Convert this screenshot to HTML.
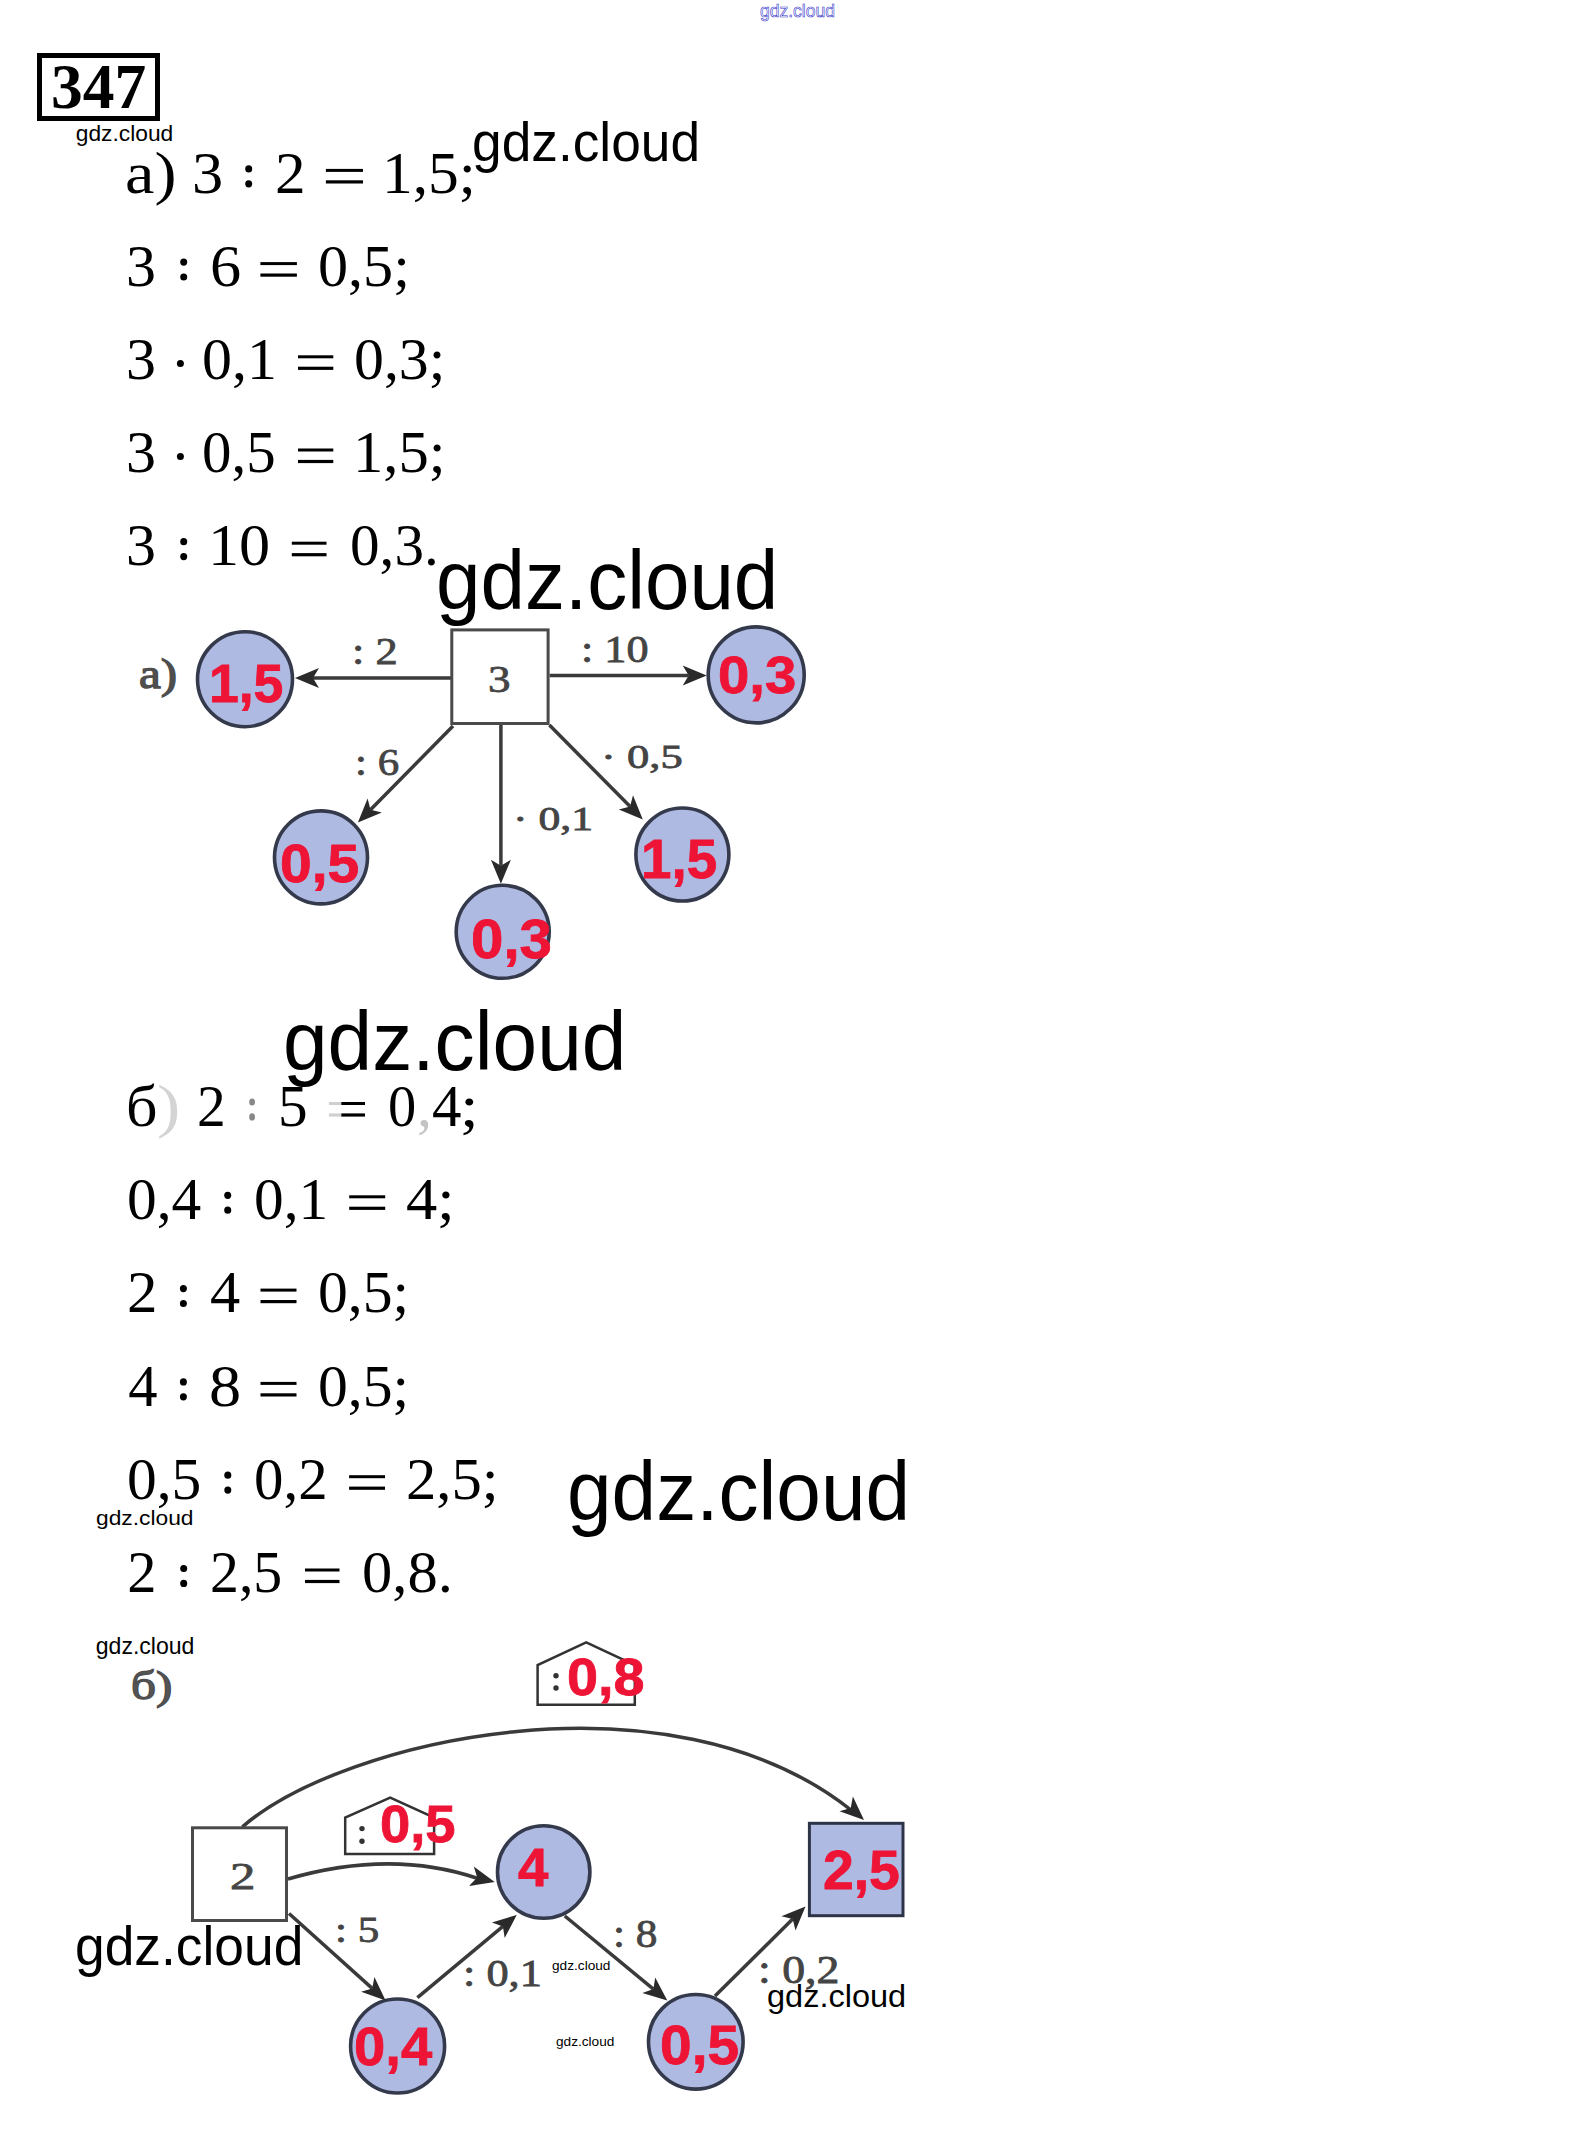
<!DOCTYPE html>
<html><head><meta charset="utf-8"><title>347</title>
<style>
html,body{margin:0;padding:0;background:#fff;}
body{width:1594px;height:2148px;position:relative;overflow:hidden;}
.t{position:absolute;white-space:pre;line-height:1;transform-origin:0 0;}
#box347{position:absolute;left:37px;top:53px;width:113px;height:58px;border:5px solid #000;}
svg{position:absolute;left:0;top:0;}
</style></head><body>
<svg width="1594" height="2148" viewBox="0 0 1594 2148">
<line x1="451" y1="678" x2="313.0" y2="678.0" stroke="#3a3a3a" stroke-width="3.5"/>
<line x1="549.6" y1="675.6" x2="688.7" y2="675.6" stroke="#3a3a3a" stroke-width="3.5"/>
<line x1="453" y1="726" x2="370.5" y2="809.8" stroke="#3a3a3a" stroke-width="3.5"/>
<line x1="500.9" y1="725" x2="500.9" y2="865.7" stroke="#3a3a3a" stroke-width="3.5"/>
<line x1="549.4" y1="725" x2="630.1" y2="806.6" stroke="#3a3a3a" stroke-width="3.5"/>
<rect x="451.8" y="629.9" width="96.30000000000001" height="93.60000000000002" fill="#fff" stroke="#4a4a4a" stroke-width="3"/>
<circle cx="245" cy="679.2" r="47.5" fill="#afbae2" stroke="#343a4c" stroke-width="3.6"/>
<circle cx="756.2" cy="674.9" r="48.0" fill="#afbae2" stroke="#343a4c" stroke-width="3.6"/>
<circle cx="321" cy="857.4" r="46.5" fill="#afbae2" stroke="#343a4c" stroke-width="3.6"/>
<circle cx="682.4" cy="854.5" r="46.5" fill="#afbae2" stroke="#343a4c" stroke-width="3.6"/>
<circle cx="502.7" cy="931.8" r="46.5" fill="#afbae2" stroke="#343a4c" stroke-width="3.6"/>
<path d="M242.4,1826.8 C344.5,1738.7 669.6,1666.2 851,1810" fill="none" stroke="#3a3a3a" stroke-width="3.5"/>
<path d="M288,1879 Q391,1849 478,1878.5" fill="none" stroke="#3a3a3a" stroke-width="3.5"/>
<line x1="289" y1="1913.5" x2="372.2" y2="1988.4" stroke="#3a3a3a" stroke-width="3.5"/>
<line x1="417.4" y1="1997.7" x2="502.9" y2="1926.4" stroke="#3a3a3a" stroke-width="3.5"/>
<line x1="564.8" y1="1916" x2="653.4" y2="1989.1" stroke="#3a3a3a" stroke-width="3.5"/>
<line x1="715" y1="1995.9" x2="792.7" y2="1919.1" stroke="#3a3a3a" stroke-width="3.5"/>
<rect x="192.5" y="1827.8" width="94" height="92.70000000000005" fill="#fff" stroke="#4a4a4a" stroke-width="3"/>
<rect x="809.4" y="1823.3" width="93.60000000000002" height="92.40000000000009" fill="#afbae2" stroke="#2e3448" stroke-width="3"/>
<circle cx="543.7" cy="1872" r="46.2" fill="#afbae2" stroke="#343a4c" stroke-width="3.6"/>
<circle cx="397.6" cy="2046" r="47.0" fill="#afbae2" stroke="#343a4c" stroke-width="3.6"/>
<circle cx="695.8" cy="2041.8" r="47.3" fill="#afbae2" stroke="#343a4c" stroke-width="3.6"/>
<polygon points="537.6,1704.7 537.6,1665 586.2,1642.3 634.8,1665 634.8,1704.7" fill="#fff" stroke="#333" stroke-width="2.5"/>
<polygon points="345.2,1854 345.2,1817.6 390.2,1797.5 434.1,1817.6 434.1,1854" fill="#fff" stroke="#333" stroke-width="2.5"/>
<circle cx="556" cy="1675.7" r="2.7" fill="#333"/><circle cx="556" cy="1688" r="2.7" fill="#333"/>
<circle cx="362" cy="1828.6" r="2.7" fill="#333"/><circle cx="362" cy="1841.3" r="2.7" fill="#333"/>
<polygon points="295.0,678.0 319.0,668.0 313.0,678.0 319.0,688.0" fill="#2a2a2a"/>
<polygon points="706.7,675.6 682.7,685.6 688.7,675.6 682.7,665.6" fill="#2a2a2a"/>
<polygon points="357.9,822.6 367.6,798.5 370.5,809.8 381.9,812.5" fill="#2a2a2a"/>
<polygon points="500.9,883.7 490.9,859.7 500.9,865.7 510.9,859.7" fill="#2a2a2a"/>
<polygon points="642.8,819.4 618.8,809.4 630.1,806.6 633.0,795.3" fill="#2a2a2a"/>
<polygon points="864.0,1820.0 839.5,1811.3 850.7,1807.9 852.9,1796.5" fill="#2a2a2a"/>
<polygon points="494.7,1882.0 469.0,1885.9 477.2,1877.6 473.8,1866.5" fill="#2a2a2a"/>
<polygon points="385.6,2000.4 361.1,1991.8 372.2,1988.4 374.4,1976.9" fill="#2a2a2a"/>
<polygon points="516.7,1914.9 504.7,1938.0 502.9,1926.4 491.9,1922.6" fill="#2a2a2a"/>
<polygon points="667.3,2000.6 642.4,1993.0 653.4,1989.1 655.2,1977.6" fill="#2a2a2a"/>
<polygon points="805.5,1906.5 795.5,1930.5 792.7,1919.1 781.4,1916.3" fill="#2a2a2a"/>
<ellipse cx="248.7" cy="168.9" rx="3.50" ry="3.6" fill="#000"/>
<ellipse cx="248.7" cy="183.8" rx="3.50" ry="3.6" fill="#000"/>
<rect x="325.9" y="168.9" width="37.1" height="3" fill="#000"/>
<rect x="325.9" y="180.3" width="37.1" height="3.2" fill="#000"/>
<ellipse cx="183.7" cy="262.1" rx="3.50" ry="3.6" fill="#000"/>
<ellipse cx="183.7" cy="277.0" rx="3.50" ry="3.6" fill="#000"/>
<rect x="260.4" y="262.1" width="36.5" height="3" fill="#000"/>
<rect x="260.4" y="273.5" width="36.5" height="3.2" fill="#000"/>
<circle cx="180.4" cy="363.4" r="3.5" fill="#000"/>
<rect x="298.0" y="355.3" width="35.3" height="3" fill="#000"/>
<rect x="298.0" y="366.7" width="35.3" height="3.2" fill="#000"/>
<circle cx="180.4" cy="456.6" r="3.5" fill="#000"/>
<rect x="298.0" y="448.5" width="35.3" height="3" fill="#000"/>
<rect x="298.0" y="459.9" width="35.3" height="3.2" fill="#000"/>
<ellipse cx="183.7" cy="541.7" rx="3.50" ry="3.6" fill="#000"/>
<ellipse cx="183.7" cy="556.6" rx="3.50" ry="3.6" fill="#000"/>
<rect x="291.8" y="541.7" width="34.7" height="3" fill="#000"/>
<rect x="291.8" y="553.1" width="34.7" height="3.2" fill="#000"/>
<ellipse cx="252.1" cy="1102.0" rx="2.90" ry="3.6" fill="#888"/>
<ellipse cx="252.1" cy="1116.9" rx="2.90" ry="3.6" fill="#888"/>
<rect x="328.9" y="1102.0" width="12.4" height="3" fill="#cfcfcf"/>
<rect x="328.9" y="1113.4" width="12.4" height="3.2" fill="#cfcfcf"/>
<rect x="341.3" y="1102.0" width="23.7" height="3" fill="#000"/>
<rect x="341.3" y="1113.4" width="23.7" height="3.2" fill="#000"/>
<ellipse cx="227.7" cy="1195.3" rx="3.50" ry="3.6" fill="#000"/>
<ellipse cx="227.7" cy="1210.2" rx="3.50" ry="3.6" fill="#000"/>
<rect x="349.2" y="1195.3" width="36.0" height="3" fill="#000"/>
<rect x="349.2" y="1206.7" width="36.0" height="3.2" fill="#000"/>
<ellipse cx="183.4" cy="1288.6" rx="3.50" ry="3.6" fill="#000"/>
<ellipse cx="183.4" cy="1303.5" rx="3.50" ry="3.6" fill="#000"/>
<rect x="260.5" y="1288.6" width="36.0" height="3" fill="#000"/>
<rect x="260.5" y="1300.0" width="36.0" height="3.2" fill="#000"/>
<ellipse cx="183.4" cy="1381.9" rx="3.50" ry="3.6" fill="#000"/>
<ellipse cx="183.4" cy="1396.8" rx="3.50" ry="3.6" fill="#000"/>
<rect x="260.5" y="1381.9" width="36.0" height="3" fill="#000"/>
<rect x="260.5" y="1393.3" width="36.0" height="3.2" fill="#000"/>
<ellipse cx="227.8" cy="1475.2" rx="3.50" ry="3.6" fill="#000"/>
<ellipse cx="227.8" cy="1490.1" rx="3.50" ry="3.6" fill="#000"/>
<rect x="349.1" y="1475.2" width="35.9" height="3" fill="#000"/>
<rect x="349.1" y="1486.6" width="35.9" height="3.2" fill="#000"/>
<ellipse cx="183.7" cy="1568.5" rx="3.50" ry="3.6" fill="#000"/>
<ellipse cx="183.7" cy="1583.4" rx="3.50" ry="3.6" fill="#000"/>
<rect x="305.0" y="1568.5" width="34.5" height="3" fill="#000"/>
<rect x="305.0" y="1579.9" width="34.5" height="3.2" fill="#000"/>
<text x="760" y="17" font-family="Liberation Sans" font-size="18.5" fill="none" stroke="#3030c8" stroke-width="0.6" textLength="75" lengthAdjust="spacingAndGlyphs">gdz.cloud</text>
</svg>
<div id="box347"></div>
<div class="t" style="left:125.45px;top:144.64px;font-family:'Liberation Serif',serif;font-weight:400;font-size:58.50px;color:#000;transform:scaleX(1.1322);">а)</div>
<div class="t" style="left:191.58px;top:144.64px;font-family:'Liberation Serif',serif;font-weight:400;font-size:58.50px;color:#000;transform:scaleX(1.0673);">3</div>
<div class="t" style="left:274.55px;top:144.64px;font-family:'Liberation Serif',serif;font-weight:400;font-size:58.50px;color:#000;transform:scaleX(1.0470);">2</div>
<div class="t" style="left:381.87px;top:144.64px;font-family:'Liberation Serif',serif;font-weight:400;font-size:58.50px;color:#000;transform:scaleX(1.0508);">1,5;</div>
<div class="t" style="left:126.00px;top:237.84px;font-family:'Liberation Serif',serif;font-weight:400;font-size:58.50px;color:#000;transform:scaleX(1.0256);">3</div>
<div class="t" style="left:209.51px;top:237.84px;font-family:'Liberation Serif',serif;font-weight:400;font-size:58.50px;color:#000;transform:scaleX(1.0654);">6</div>
<div class="t" style="left:317.59px;top:237.84px;font-family:'Liberation Serif',serif;font-weight:400;font-size:58.50px;color:#000;transform:scaleX(1.0281);">0,5;</div>
<div class="t" style="left:126.00px;top:331.05px;font-family:'Liberation Serif',serif;font-weight:400;font-size:58.50px;color:#000;transform:scaleX(1.0256);">3</div>
<div class="t" style="left:202.30px;top:331.05px;font-family:'Liberation Serif',serif;font-weight:400;font-size:58.50px;color:#000;transform:scaleX(1.0242);">0,1</div>
<div class="t" style="left:354.11px;top:331.05px;font-family:'Liberation Serif',serif;font-weight:400;font-size:58.50px;color:#000;transform:scaleX(1.0220);">0,3;</div>
<div class="t" style="left:126.00px;top:424.25px;font-family:'Liberation Serif',serif;font-weight:400;font-size:58.50px;color:#000;transform:scaleX(1.0256);">3</div>
<div class="t" style="left:202.34px;top:424.25px;font-family:'Liberation Serif',serif;font-weight:400;font-size:58.50px;color:#000;transform:scaleX(1.0066);">0,5</div>
<div class="t" style="left:352.95px;top:424.25px;font-family:'Liberation Serif',serif;font-weight:400;font-size:58.50px;color:#000;transform:scaleX(1.0357);">1,5;</div>
<div class="t" style="left:126.00px;top:517.45px;font-family:'Liberation Serif',serif;font-weight:400;font-size:58.50px;color:#000;transform:scaleX(1.0256);">3</div>
<div class="t" style="left:208.30px;top:517.45px;font-family:'Liberation Serif',serif;font-weight:400;font-size:58.50px;color:#000;transform:scaleX(1.0630);">10</div>
<div class="t" style="left:350.03px;top:517.45px;font-family:'Liberation Serif',serif;font-weight:400;font-size:58.50px;color:#000;transform:scaleX(1.0121);">0,3.</div>
<div class="t" style="left:125.90px;top:1077.74px;font-family:'Liberation Serif',serif;font-weight:400;font-size:58.50px;color:#000;transform:scaleX(1.0582);">б</div>
<div class="t" style="left:157.40px;top:1077.74px;font-family:'Liberation Serif',serif;font-weight:400;font-size:58.50px;color:#d4d4d4;transform:scaleX(1.1966);">)</div>
<div class="t" style="left:196.50px;top:1077.74px;font-family:'Liberation Serif',serif;font-weight:400;font-size:58.50px;color:#000;transform:scaleX(0.9829);">2</div>
<div class="t" style="left:277.94px;top:1077.74px;font-family:'Liberation Serif',serif;font-weight:400;font-size:58.50px;color:#000;transform:scaleX(1.0128);">5</div>
<div class="t" style="left:387.64px;top:1077.74px;font-family:'Liberation Serif',serif;font-weight:400;font-size:58.50px;color:#000;transform:scaleX(0.9646);">0</div>
<div class="t" style="left:416.60px;top:1077.74px;font-family:'Liberation Serif',serif;font-weight:400;font-size:58.50px;color:#c4c4c4;transform:scaleX(1.0256);">,</div>
<div class="t" style="left:431.62px;top:1077.74px;font-family:'Liberation Serif',serif;font-weight:400;font-size:58.50px;color:#000;transform:scaleX(1.0071);">4</div>
<div class="t" style="left:459.93px;top:1077.74px;font-family:'Liberation Serif',serif;font-weight:400;font-size:58.50px;color:#000;transform:scaleX(1.1510);">;</div>
<div class="t" style="left:126.92px;top:1171.04px;font-family:'Liberation Serif',serif;font-weight:400;font-size:58.50px;color:#000;transform:scaleX(1.0156);">0,4</div>
<div class="t" style="left:254.23px;top:1171.04px;font-family:'Liberation Serif',serif;font-weight:400;font-size:58.50px;color:#000;transform:scaleX(1.0137);">0,1</div>
<div class="t" style="left:405.75px;top:1171.04px;font-family:'Liberation Serif',serif;font-weight:400;font-size:58.50px;color:#000;transform:scaleX(1.0684);">4;</div>
<div class="t" style="left:126.86px;top:1264.35px;font-family:'Liberation Serif',serif;font-weight:400;font-size:58.50px;color:#000;transform:scaleX(1.0427);">2</div>
<div class="t" style="left:209.59px;top:1264.35px;font-family:'Liberation Serif',serif;font-weight:400;font-size:58.50px;color:#000;transform:scaleX(1.0331);">4</div>
<div class="t" style="left:318.01px;top:1264.35px;font-family:'Liberation Serif',serif;font-weight:400;font-size:58.50px;color:#000;transform:scaleX(1.0196);">0,5;</div>
<div class="t" style="left:128.13px;top:1357.64px;font-family:'Liberation Serif',serif;font-weight:400;font-size:58.50px;color:#000;">4</div>
<div class="t" style="left:209.03px;top:1357.64px;font-family:'Liberation Serif',serif;font-weight:400;font-size:58.50px;color:#000;transform:scaleX(1.0989);">8</div>
<div class="t" style="left:318.01px;top:1357.64px;font-family:'Liberation Serif',serif;font-weight:400;font-size:58.50px;color:#000;transform:scaleX(1.0196);">0,5;</div>
<div class="t" style="left:126.72px;top:1450.94px;font-family:'Liberation Serif',serif;font-weight:400;font-size:58.50px;color:#000;transform:scaleX(1.0169);">0,5</div>
<div class="t" style="left:254.25px;top:1450.94px;font-family:'Liberation Serif',serif;font-weight:400;font-size:58.50px;color:#000;transform:scaleX(1.0063);">0,2</div>
<div class="t" style="left:406.07px;top:1450.94px;font-family:'Liberation Serif',serif;font-weight:400;font-size:58.50px;color:#000;transform:scaleX(1.0366);">2,5;</div>
<div class="t" style="left:127.36px;top:1544.24px;font-family:'Liberation Serif',serif;font-weight:400;font-size:58.50px;color:#000;">2</div>
<div class="t" style="left:210.19px;top:1544.24px;font-family:'Liberation Serif',serif;font-weight:400;font-size:58.50px;color:#000;transform:scaleX(0.9877);">2,5</div>
<div class="t" style="left:361.88px;top:1544.24px;font-family:'Liberation Serif',serif;font-weight:400;font-size:58.50px;color:#000;transform:scaleX(1.0355);">0,8.</div>
<div class="t" style="left:75.79px;top:122.27px;font-family:'Liberation Sans',sans-serif;font-weight:400;font-size:22.78px;color:#000;">gdz.cloud</div>
<div class="t" style="left:471.57px;top:114.63px;font-family:'Liberation Sans',sans-serif;font-weight:400;font-size:54.72px;color:#000;transform:scaleX(0.9736);">gdz.cloud</div>
<div class="t" style="left:435.80px;top:539.02px;font-family:'Liberation Sans',sans-serif;font-weight:400;font-size:83.19px;color:#000;transform:scaleX(0.9613);">gdz.cloud</div>
<div class="t" style="left:282.99px;top:999.52px;font-family:'Liberation Sans',sans-serif;font-weight:400;font-size:83.19px;color:#000;transform:scaleX(0.9642);">gdz.cloud</div>
<div class="t" style="left:95.69px;top:1507.47px;font-family:'Liberation Sans',sans-serif;font-weight:400;font-size:21.11px;color:#000;transform:scaleX(1.0788);">gdz.cloud</div>
<div class="t" style="left:566.89px;top:1451.38px;font-family:'Liberation Sans',sans-serif;font-weight:400;font-size:82.64px;color:#000;transform:scaleX(0.9698);">gdz.cloud</div>
<div class="t" style="left:95.78px;top:1634.73px;font-family:'Liberation Sans',sans-serif;font-weight:400;font-size:23.06px;color:#000;">gdz.cloud</div>
<div class="t" style="left:75.47px;top:1918.92px;font-family:'Liberation Sans',sans-serif;font-weight:400;font-size:54.86px;color:#000;transform:scaleX(0.9724);">gdz.cloud</div>
<div class="t" style="left:551.55px;top:1959.40px;font-family:'Liberation Sans',sans-serif;font-weight:400;font-size:13.33px;color:#000;transform:scaleX(1.0245);">gdz.cloud</div>
<div class="t" style="left:555.55px;top:2035.40px;font-family:'Liberation Sans',sans-serif;font-weight:400;font-size:13.33px;color:#000;transform:scaleX(1.0227);">gdz.cloud</div>
<div class="t" style="left:767.30px;top:1981.32px;font-family:'Liberation Sans',sans-serif;font-weight:400;font-size:31.53px;color:#000;transform:scaleX(1.0312);">gdz.cloud</div>
<div class="t" style="left:51.06px;top:55.96px;font-family:'Liberation Serif',serif;font-weight:700;font-size:62.99px;color:#000;transform:scaleX(1.0077);">347</div>
<div class="t" style="left:208.88px;top:656.92px;font-family:'Liberation Sans',sans-serif;font-weight:700;font-size:53.62px;color:#ee1436;-webkit-text-stroke:0.8px #ee1436;">1,5</div>
<div class="t" style="left:718.05px;top:648.93px;font-family:'Liberation Sans',sans-serif;font-weight:700;font-size:52.32px;color:#ee1436;transform:scaleX(1.0768);-webkit-text-stroke:0.8px #ee1436;">0,3</div>
<div class="t" style="left:280.32px;top:837.47px;font-family:'Liberation Sans',sans-serif;font-weight:700;font-size:53.33px;color:#ee1436;transform:scaleX(1.0696);-webkit-text-stroke:0.8px #ee1436;">0,5</div>
<div class="t" style="left:640.51px;top:831.67px;font-family:'Liberation Sans',sans-serif;font-weight:700;font-size:55.22px;color:#ee1436;transform:scaleX(0.9919);-webkit-text-stroke:0.8px #ee1436;">1,5</div>
<div class="t" style="left:470.77px;top:911.97px;font-family:'Liberation Sans',sans-serif;font-weight:700;font-size:55.22px;color:#ee1436;transform:scaleX(1.0548);-webkit-text-stroke:0.8px #ee1436;">0,3</div>
<div class="t" style="left:566.77px;top:1651.43px;font-family:'Liberation Sans',sans-serif;font-weight:700;font-size:52.32px;color:#ee1436;transform:scaleX(1.0672);-webkit-text-stroke:0.8px #ee1436;">0,8</div>
<div class="t" style="left:380.12px;top:1798.77px;font-family:'Liberation Sans',sans-serif;font-weight:700;font-size:51.45px;color:#ee1436;transform:scaleX(1.0572);-webkit-text-stroke:0.8px #ee1436;">0,5</div>
<div class="t" style="left:518.41px;top:1839.95px;font-family:'Liberation Sans',sans-serif;font-weight:700;font-size:54.06px;color:#ee1436;transform:scaleX(1.0122);-webkit-text-stroke:0.8px #ee1436;">4</div>
<div class="t" style="left:822.93px;top:1842.74px;font-family:'Liberation Sans',sans-serif;font-weight:700;font-size:55.36px;color:#ee1436;-webkit-text-stroke:0.8px #ee1436;">2,5</div>
<div class="t" style="left:354.35px;top:2019.35px;font-family:'Liberation Sans',sans-serif;font-weight:700;font-size:54.06px;color:#ee1436;transform:scaleX(1.0400);-webkit-text-stroke:0.8px #ee1436;">0,4</div>
<div class="t" style="left:660.22px;top:2018.07px;font-family:'Liberation Sans',sans-serif;font-weight:700;font-size:55.22px;color:#ee1436;transform:scaleX(1.0304);-webkit-text-stroke:0.8px #ee1436;">0,5</div>
<div class="t" style="left:352.45px;top:633.09px;font-family:'Liberation Serif',serif;font-weight:400;font-size:37.73px;color:#444;transform:scaleX(1.1764);-webkit-text-stroke:0.8px #444;">: 2</div>
<div class="t" style="left:580.87px;top:630.59px;font-family:'Liberation Serif',serif;font-weight:400;font-size:37.73px;color:#444;transform:scaleX(1.1712);-webkit-text-stroke:0.8px #444;">: 10</div>
<div class="t" style="left:355.37px;top:742.66px;font-family:'Liberation Serif',serif;font-weight:400;font-size:38.48px;color:#444;transform:scaleX(1.1156);-webkit-text-stroke:0.8px #444;">: 6</div>
<div class="t" style="left:601.10px;top:740.28px;font-family:'Liberation Serif',serif;font-weight:400;font-size:33.64px;color:#444;transform:scaleX(1.3255);-webkit-text-stroke:0.8px #444;">· 0,5</div>
<div class="t" style="left:513.19px;top:801.61px;font-family:'Liberation Serif',serif;font-weight:400;font-size:33.48px;color:#444;transform:scaleX(1.3061);-webkit-text-stroke:0.8px #444;">· 0,1</div>
<div class="t" style="left:487.74px;top:659.68px;font-family:'Liberation Serif',serif;font-weight:400;font-size:38.94px;color:#444;transform:scaleX(1.1588);-webkit-text-stroke:0.8px #444;">3</div>
<div class="t" style="left:229.77px;top:1857.23px;font-family:'Liberation Serif',serif;font-weight:400;font-size:38.03px;color:#444;transform:scaleX(1.3345);-webkit-text-stroke:0.8px #444;">2</div>
<div class="t" style="left:334.55px;top:1911.77px;font-family:'Liberation Serif',serif;font-weight:400;font-size:36.67px;color:#444;transform:scaleX(1.1748);-webkit-text-stroke:0.8px #444;">: 5</div>
<div class="t" style="left:463.45px;top:1954.41px;font-family:'Liberation Serif',serif;font-weight:400;font-size:38.79px;color:#444;transform:scaleX(1.1444);-webkit-text-stroke:0.8px #444;">: 0,1</div>
<div class="t" style="left:612.54px;top:1915.25px;font-family:'Liberation Serif',serif;font-weight:400;font-size:39.70px;color:#444;transform:scaleX(1.0907);-webkit-text-stroke:0.8px #444;">: 8</div>
<div class="t" style="left:757.74px;top:1949.73px;font-family:'Liberation Serif',serif;font-weight:400;font-size:39.85px;color:#444;transform:scaleX(1.1492);-webkit-text-stroke:0.8px #444;">: 0,2</div>
<div class="t" style="left:139.33px;top:651.61px;font-family:'Liberation Serif',serif;font-weight:400;font-size:43.00px;color:#4e4e4e;transform:scaleX(1.1426);-webkit-text-stroke:1.3px #4e4e4e;">а)</div>
<div class="t" style="left:130.95px;top:1666.40px;font-family:'Liberation Serif',serif;font-weight:400;font-size:40.00px;color:#555;transform:scaleX(1.2233);-webkit-text-stroke:1.3px #4e4e4e;">б)</div>
</body></html>
